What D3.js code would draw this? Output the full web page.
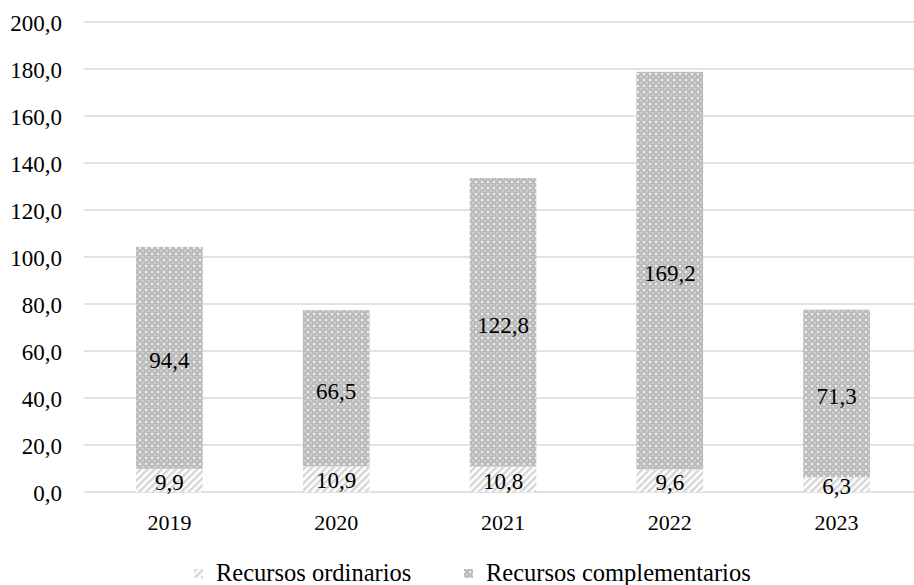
<!DOCTYPE html>
<html><head><meta charset="utf-8">
<script src="https://cdn.jsdelivr.net/npm/d3@7"></script>
<style>body{margin:0;background:#fff}svg{display:block}</style>
</head><body>
<svg id="c" width="914" height="585" style="font-family:Liberation Serif"></svg>
<script>
const years = ["2019","2020","2021","2022","2023"];
const ordinarios = [9.9,10.9,10.8,9.6,6.3];
const complementarios = [94.4,66.5,122.8,169.2,71.3];
const yTicks = [0,20,40,60,80,100,120,140,160,180,200];
const seriesNames = ["Recursos ordinarios","Recursos complementarios"];

const FONT = "Liberation Serif";
const svg = d3.select("#c");
const W = 914, H = 585;
const defs = svg.append("defs");
const p1 = defs.append("pattern").attr("id","hatch").attr("patternUnits","userSpaceOnUse")
  .attr("width",5).attr("height",5).attr("patternTransform","rotate(45)");
p1.append("rect").attr("width",5).attr("height",5).attr("fill","#fff");
p1.append("rect").attr("width",2.5).attr("height",5).attr("fill","#d6d6d6");
const p2 = defs.append("pattern").attr("id","dots").attr("patternUnits","userSpaceOnUse")
  .attr("width",6).attr("height",6);
p2.append("rect").attr("width",6).attr("height",6).attr("fill","#bdbdbd");
p2.append("rect").attr("x",1).attr("y",1).attr("width",2).attr("height",2).attr("fill","#f2f2f2");
p2.append("rect").attr("x",4).attr("y",4).attr("width",1.5).attr("height",1.5).attr("fill","#dcdcdc");

const x = d3.scaleBand().domain(years).range([86,920]).paddingInner(0.6).paddingOuter(0.3);
const y = d3.scaleLinear().domain([0,200]).range([492,22]);

svg.append("g").selectAll("line").data(yTicks).join("line")
  .attr("x1",84).attr("x2",W).attr("y1",d=>y(d)).attr("y2",d=>y(d))
  .attr("stroke","#d9d9d9").attr("stroke-width",1.5);

const fmt = v => d3.format(".1f")(v).replace(".",",");
const yAxis = d3.axisLeft(y).tickValues(yTicks).tickSize(0).tickPadding(0).tickFormat(fmt);
const ga = svg.append("g").attr("transform","translate(62,0)").call(yAxis);
ga.attr("font-family",null).attr("font-size",null);
ga.select(".domain").remove();
ga.selectAll("text").attr("fill","#000").attr("dy","0.36em").attr("font-size",23);

const data = years.map((yr,i)=>({yr,o:ordinarios[i],c:complementarios[i]}));
const g = svg.append("g");
g.selectAll(".o").data(data).join("rect")
  .attr("x",d=>x(d.yr)).attr("width",x.bandwidth())
  .attr("y",d=>y(d.o)).attr("height",d=>y(0)-y(d.o)).attr("fill","url(#hatch)");
g.selectAll(".c").data(data).join("rect")
  .attr("x",d=>x(d.yr)).attr("width",x.bandwidth())
  .attr("y",d=>y(d.o+d.c)).attr("height",d=>y(d.o)-y(d.o+d.c)).attr("fill","url(#dots)");

g.selectAll("text.lo").data(data).join("text").attr("class","lo")
  .attr("x",d=>x(d.yr)+x.bandwidth()/2).attr("y",d=>y(d.o/2)).attr("dy","0.4em")
  .attr("text-anchor","middle").attr("font-size",23).text(d=>fmt(d.o));
g.selectAll("text.lc").data(data).join("text").attr("class","lc")
  .attr("x",d=>x(d.yr)+x.bandwidth()/2).attr("y",d=>y(d.o+d.c/2)).attr("dy","0.45em")
  .attr("text-anchor","middle").attr("font-size",23).text(d=>fmt(d.c));

const xAxis = d3.axisBottom(x).tickSize(0).tickPadding(0);
const gx = svg.append("g").attr("transform","translate(0,0)").call(xAxis);
gx.attr("font-family",null).attr("font-size",null);
gx.select(".domain").remove();
gx.selectAll("text").attr("fill","#000").attr("y",530).attr("dy",0).attr("font-size",22);

const leg = svg.append("g");
const items = [{n:seriesNames[0],f:"url(#hatch)",x:194},{n:seriesNames[1],f:"url(#dots)",x:464}];
items.forEach(it=>{
  leg.append("rect").attr("x",it.x).attr("y",569).attr("width",9).attr("height",9).attr("fill",it.f);
  leg.append("text").attr("x",it.x+22).attr("y",581).attr("font-size",24.5).text(it.n);
});

svg.selectAll("text").attr("font-family",FONT).style("font-family",FONT);
</script>
</body></html>
